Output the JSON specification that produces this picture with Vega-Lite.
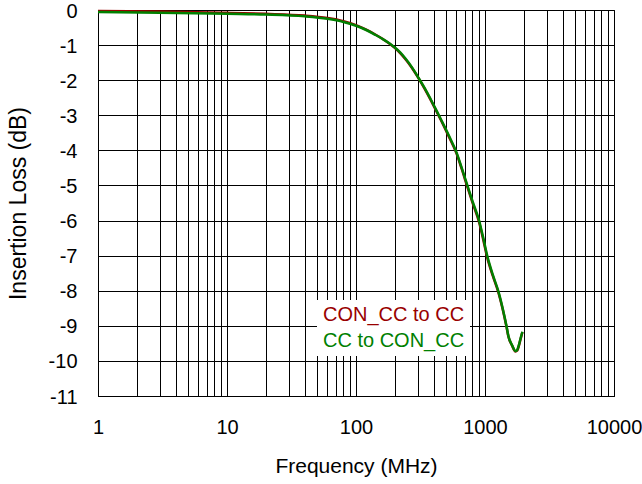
{
  "$schema": "https://vega.github.io/schema/vega-lite/v6.json",
  "width": 516,
  "height": 386,
  "autosize": {"type": "none"},
  "padding": {"left": 98, "top": 10, "right": 28, "bottom": 88},
  "background": "white",
  "config": {
    "font": "Liberation Sans",
    "view": {"stroke": "#000", "strokeWidth": 1},
    "axis": {
      "labelFont": "Liberation Sans",
      "titleFont": "Liberation Sans",
      "labelFontSize": 20,
      "titleFontSize": 20,
      "titleFontWeight": "normal",
      "labelColor": "#000",
      "titleColor": "#000",
      "gridColor": "#000",
      "gridOpacity": 1,
      "gridWidth": 1,
      "domainColor": "#000",
      "ticks": false,
      "tickSize": 0,
      "labelOverlap": false,
      "labelFlush": false,
      "labelBound": false
    }
  },
  "datasets": {
    "loss": [
      {"series": "CON_CC to CC", "freq": 1, "db": -0.03},
      {"series": "CON_CC to CC", "freq": 3, "db": -0.04},
      {"series": "CON_CC to CC", "freq": 10, "db": -0.08},
      {"series": "CON_CC to CC", "freq": 20, "db": -0.11},
      {"series": "CON_CC to CC", "freq": 40, "db": -0.16},
      {"series": "CON_CC to CC", "freq": 60, "db": -0.23},
      {"series": "CON_CC to CC", "freq": 80, "db": -0.32},
      {"series": "CON_CC to CC", "freq": 100, "db": -0.43},
      {"series": "CON_CC to CC", "freq": 120, "db": -0.56},
      {"series": "CON_CC to CC", "freq": 140, "db": -0.69},
      {"series": "CON_CC to CC", "freq": 160, "db": -0.82},
      {"series": "CON_CC to CC", "freq": 180, "db": -0.95},
      {"series": "CON_CC to CC", "freq": 200, "db": -1.08},
      {"series": "CON_CC to CC", "freq": 220, "db": -1.23},
      {"series": "CON_CC to CC", "freq": 240, "db": -1.39},
      {"series": "CON_CC to CC", "freq": 270, "db": -1.64},
      {"series": "CON_CC to CC", "freq": 300, "db": -1.9},
      {"series": "CON_CC to CC", "freq": 340, "db": -2.24},
      {"series": "CON_CC to CC", "freq": 380, "db": -2.57},
      {"series": "CON_CC to CC", "freq": 420, "db": -2.88},
      {"series": "CON_CC to CC", "freq": 460, "db": -3.17},
      {"series": "CON_CC to CC", "freq": 520, "db": -3.58},
      {"series": "CON_CC to CC", "freq": 600, "db": -4.08},
      {"series": "CON_CC to CC", "freq": 660, "db": -4.53},
      {"series": "CON_CC to CC", "freq": 730, "db": -5.04},
      {"series": "CON_CC to CC", "freq": 800, "db": -5.49},
      {"series": "CON_CC to CC", "freq": 900, "db": -6.05},
      {"series": "CON_CC to CC", "freq": 970, "db": -6.55},
      {"series": "CON_CC to CC", "freq": 1040, "db": -7.05},
      {"series": "CON_CC to CC", "freq": 1150, "db": -7.58},
      {"series": "CON_CC to CC", "freq": 1270, "db": -8.05},
      {"series": "CON_CC to CC", "freq": 1370, "db": -8.52},
      {"series": "CON_CC to CC", "freq": 1470, "db": -9.04},
      {"series": "CON_CC to CC", "freq": 1520, "db": -9.31},
      {"series": "CON_CC to CC", "freq": 1620, "db": -9.56},
      {"series": "CON_CC to CC", "freq": 1720, "db": -9.73},
      {"series": "CON_CC to CC", "freq": 1780, "db": -9.7},
      {"series": "CON_CC to CC", "freq": 1830, "db": -9.57},
      {"series": "CON_CC to CC", "freq": 1890, "db": -9.37},
      {"series": "CON_CC to CC", "freq": 1950, "db": -9.18},
      {"series": "CC to CON_CC", "freq": 1, "db": -0.06},
      {"series": "CC to CON_CC", "freq": 3, "db": -0.08},
      {"series": "CC to CON_CC", "freq": 10, "db": -0.11},
      {"series": "CC to CON_CC", "freq": 20, "db": -0.13},
      {"series": "CC to CON_CC", "freq": 40, "db": -0.18},
      {"series": "CC to CON_CC", "freq": 60, "db": -0.25},
      {"series": "CC to CON_CC", "freq": 80, "db": -0.34},
      {"series": "CC to CON_CC", "freq": 100, "db": -0.45},
      {"series": "CC to CON_CC", "freq": 120, "db": -0.57},
      {"series": "CC to CON_CC", "freq": 140, "db": -0.7},
      {"series": "CC to CON_CC", "freq": 160, "db": -0.82},
      {"series": "CC to CON_CC", "freq": 180, "db": -0.94},
      {"series": "CC to CON_CC", "freq": 200, "db": -1.07},
      {"series": "CC to CON_CC", "freq": 220, "db": -1.21},
      {"series": "CC to CON_CC", "freq": 240, "db": -1.37},
      {"series": "CC to CON_CC", "freq": 270, "db": -1.62},
      {"series": "CC to CON_CC", "freq": 300, "db": -1.89},
      {"series": "CC to CON_CC", "freq": 340, "db": -2.22},
      {"series": "CC to CON_CC", "freq": 380, "db": -2.55},
      {"series": "CC to CON_CC", "freq": 420, "db": -2.86},
      {"series": "CC to CON_CC", "freq": 460, "db": -3.15},
      {"series": "CC to CON_CC", "freq": 520, "db": -3.55},
      {"series": "CC to CON_CC", "freq": 600, "db": -4.05},
      {"series": "CC to CON_CC", "freq": 660, "db": -4.5},
      {"series": "CC to CON_CC", "freq": 730, "db": -5.0},
      {"series": "CC to CON_CC", "freq": 800, "db": -5.45},
      {"series": "CC to CON_CC", "freq": 900, "db": -6.0},
      {"series": "CC to CON_CC", "freq": 970, "db": -6.5},
      {"series": "CC to CON_CC", "freq": 1040, "db": -7.0},
      {"series": "CC to CON_CC", "freq": 1150, "db": -7.55},
      {"series": "CC to CON_CC", "freq": 1270, "db": -8.02},
      {"series": "CC to CON_CC", "freq": 1370, "db": -8.5},
      {"series": "CC to CON_CC", "freq": 1470, "db": -9.02},
      {"series": "CC to CON_CC", "freq": 1520, "db": -9.3},
      {"series": "CC to CON_CC", "freq": 1620, "db": -9.55},
      {"series": "CC to CON_CC", "freq": 1720, "db": -9.72},
      {"series": "CC to CON_CC", "freq": 1780, "db": -9.68},
      {"series": "CC to CON_CC", "freq": 1830, "db": -9.55},
      {"series": "CC to CON_CC", "freq": 1890, "db": -9.35},
      {"series": "CC to CON_CC", "freq": 1950, "db": -9.17}
    ]
  },
  "layer": [
    {
      "data": {"name": "loss"},
      "mark": {"type": "line", "strokeWidth": 2.5, "interpolate": "monotone"},
      "encoding": {
        "x": {
          "field": "freq",
          "type": "quantitative",
          "scale": {"type": "log", "domain": [1, 10000], "nice": false},
          "axis": {
            "title": "Frequency (MHz)",
            "titleFontSize": 21,
            "values": [1, 2, 3, 4, 5, 6, 7, 8, 9, 10, 20, 30, 40, 50, 60, 70, 80, 90, 100, 200, 300, 400, 500, 600, 700, 800, 900, 1000, 2000, 3000, 4000, 5000, 6000, 7000, 8000, 9000, 10000],
            "tickCount": 40,
            "labelExpr": "indexof([1, 10, 100, 1000, 10000], datum.value) >= 0 ? '' + datum.value : ''",
            "labelPadding": 21,
            "titlePadding": 18
          }
        },
        "y": {
          "field": "db",
          "type": "quantitative",
          "scale": {"domain": [-11, 0], "nice": false, "zero": false},
          "axis": {
            "title": "Insertion Loss (dB)",
            "titleFontSize": 23,
            "values": [-11, -10, -9, -8, -7, -6, -5, -4, -3, -2, -1, 0],
            "tickCount": 12,
            "labelExpr": "'' + datum.value",
            "labelPadding": 21,
            "labelOffset": 1,
            "titlePadding": 18
          }
        },
        "color": {
          "field": "series",
          "type": "nominal",
          "scale": {"domain": ["CON_CC to CC", "CC to CON_CC"], "range": ["#990000", "#008000"]},
          "legend": {
            "orient": "none",
            "legendX": 219,
            "legendY": 290,
            "title": null,
            "fillColor": "white",
            "padding": 5,
            "rowPadding": 6,
            "labelFont": "Liberation Sans",
            "labelFontSize": 20,
            "labelOffset": -19,
            "labelLimit": 200,
            "symbolSize": 0,
            "symbolStrokeWidth": 0,
            "symbolOpacity": 0,
            "encode": {"labels": {"update": {"fill": {"signal": "scale('color', datum.value)"}}}}
          }
        }
      }
    },
    {
      "mark": {"type": "rect", "fill": "white", "stroke": null},
      "encoding": {
        "x": {"datum": 1239, "type": "quantitative"},
        "x2": {"datum": 8222},
        "y": {"datum": -0.2, "type": "quantitative"},
        "y2": {"datum": -1.22}
      }
    },
    {
      "mark": {"type": "text", "text": "V", "fontSize": 20, "align": "left", "baseline": "alphabetic", "color": "#000"},
      "encoding": {
        "x": {"datum": 1306, "type": "quantitative"},
        "y": {"datum": -0.9, "type": "quantitative"}
      }
    },
    {
      "mark": {"type": "text", "text": "DD", "fontSize": 15, "align": "left", "baseline": "alphabetic", "dx": 13, "dy": 6, "color": "#000"},
      "encoding": {
        "x": {"datum": 1306, "type": "quantitative"},
        "y": {"datum": -0.9, "type": "quantitative"}
      }
    },
    {
      "mark": {"type": "text", "text": "= 3.3V", "fontSize": 20, "align": "left", "baseline": "alphabetic", "dx": 33, "color": "#000"},
      "encoding": {
        "x": {"datum": 1306, "type": "quantitative"},
        "y": {"datum": -0.9, "type": "quantitative"}
      }
    }
  ]
}
